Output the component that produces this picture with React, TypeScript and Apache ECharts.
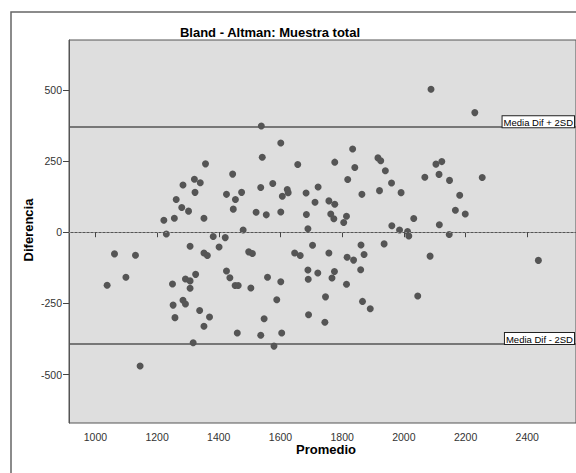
import React, { useEffect, useRef } from "react";
import * as echarts from "echarts";

const promedio = [
  1357, 1445, 1321, 1340, 1284, 1323, 1425, 1454, 1474, 1262, 1280, 1302, 1447, 1222, 1256, 1352,
  1230, 1382, 1421, 1401, 1307, 1062, 1130, 1352, 1363, 1099, 1038, 1250, 1292, 1307, 1325, 1307,
  1425, 1436, 1453, 1463, 1284, 1292, 1252, 1338, 1370, 1258, 1352, 1460, 1317, 1145,
  1538, 1601, 1541, 1834, 1656, 1776, 1916, 1925, 1841, 1940, 1818, 1960, 1575, 1536, 1722, 1622,
  1625, 1606, 1683, 1921, 1864, 1991, 1712, 1757, 1776, 1521, 1554, 1601, 1684, 1763, 1773, 1814,
  1805, 1961, 1479, 1689, 1986, 1704, 1861, 1936, 1497, 1509, 1646, 1664, 1757, 1816, 1837, 1871,
  1504, 1558, 1601, 1689, 1690, 1721, 1775, 1767, 1860, 1814, 1588, 1746, 1866, 1891, 1547, 1691,
  1744, 1536, 1604, 1579,
  2088, 2230, 2104, 2123, 2068, 2114, 2148, 2254, 2181, 2167, 2199, 2032, 2115, 2012, 2016, 2147,
  2085, 2436, 2045,
];
const diferencia = [
  240, 204, 186, 174, 166, 140, 133, 115, 140, 115, 87, 74, 81, 42, 49, 49,
  -6, -15, -19, -52, -49, -76, -81, -73, -82, -158, -186, -182, -164, -171, -148, -197,
  -136, -160, -187, -187, -239, -252, -256, -275, -298, -300, -330, -354, -388, -470,
  373, 313, 263, 292, 238, 246, 261, 251, 227, 216, 185, 173, 171, 157, 159, 150,
  139, 126, 138, 146, 133, 139, 105, 110, 98, 70, 61, 71, 62, 64, 47, 56,
  34, 23, 8, 12, 8, -46, -45, -41, -69, -75, -73, -82, -73, -88, -98, -78,
  -196, -158, -174, -133, -165, -143, -138, -161, -132, -183, -237, -227, -243, -269, -304, -290,
  -316, -362, -354, -400,
  502, 420, 239, 248, 193, 203, 182, 192, 130, 77, 64, 48, 26, 2, -13, -8,
  -84, -99, -224,
];
const xTicks = [1000, 1200, 1400, 1600, 1800, 2000, 2200, 2400];
const yTicks = [-500, -250, 0, 250, 500];
const limitUpper = 369;
const limitLower = -393;
const limitLabels = ["Media Dif + 2SD", "Media Dif - 2SD"];
const titleText = "Bland - Altman: Muestra total";
const xName = "Promedio";
const yName = "Diferencia";

const FONT = "'Liberation Sans', Arial, sans-serif";

export default function App() {
  const ref = useRef<HTMLDivElement>(null);
  useEffect(() => {
    const chart = echarts.init(ref.current!, null, { renderer: "svg" });
    const points = promedio.map((x, i) => [x, diferencia[i]]);
    const limitLabel = (text: string) => ({
      show: true,
      formatter: text,
      position: "insideEndTop",
      distance: [2, 0],
      color: "#000",
      fontSize: 9.5,
      fontFamily: FONT,
      backgroundColor: "#fff",
      borderColor: "#222",
      borderWidth: 1,
      padding: [1, 1, 0, 1],
    });
    const nameFont = `bold 13px ${FONT}`;
    chart.setOption({
      animation: false,
      backgroundColor: "#fff",
      textStyle: { fontFamily: FONT },
      graphic: [
        {
          type: "rect",
          shape: { x: 11, y: 12, width: 700, height: 600 },
          style: { fill: "none", stroke: "#666", lineWidth: 1.5 },
          silent: true,
        },
        {
          type: "text",
          x: 270,
          y: 32,
          style: {
            text: titleText,
            font: nameFont,
            fill: "#000",
            textAlign: "center",
            textVerticalAlign: "middle",
          },
        },
        {
          type: "text",
          x: 326,
          y: 449,
          style: {
            text: xName,
            font: nameFont,
            fill: "#000",
            textAlign: "center",
            textVerticalAlign: "middle",
          },
        },
        {
          type: "text",
          x: 28,
          y: 230,
          rotation: Math.PI / 2,
          style: {
            text: yName,
            font: nameFont,
            fill: "#000",
            textAlign: "center",
            textVerticalAlign: "middle",
          },
        },
      ],
      grid: {
        left: 69,
        top: 40,
        right: 0,
        bottom: 50,
        show: true,
        backgroundColor: "#dedede",
        borderColor: "#555",
        borderWidth: 1,
      },
      xAxis: {
        type: "value",
        min: 914.5,
        max: 2558,
        axisLine: { show: true, lineStyle: { color: "#555", width: 1 } },
        axisTick: { show: true, length: 5, customValues: xTicks, lineStyle: { color: "#444" } },
        axisLabel: {
          customValues: xTicks,
          formatter: (v: number) => String(v),
          fontSize: 10.5,
          color: "#333",
          margin: 8,
          fontFamily: FONT,
        },
        splitLine: { show: false },
      },
      yAxis: {
        type: "value",
        min: -670,
        max: 675,
        axisLine: { show: true, lineStyle: { color: "#555", width: 1 } },
        axisTick: { show: true, length: 6, customValues: yTicks, lineStyle: { color: "#444" } },
        axisLabel: {
          customValues: yTicks,
          formatter: (v: number) => String(v),
          fontSize: 10.5,
          color: "#333",
          margin: 7,
          fontFamily: FONT,
        },
        splitLine: { show: false },
      },
      series: [
        {
          type: "scatter",
          data: points,
          symbolSize: 7,
          itemStyle: { color: "#555", opacity: 1 },
          markLine: {
            silent: true,
            symbol: "none",
            animation: false,
            data: [
              {
                yAxis: 0,
                lineStyle: { color: "#8a8a8a", type: [2, 2], width: 1 },
                label: { show: false },
              },
              {
                yAxis: limitUpper,
                lineStyle: { color: "#555", type: "solid", width: 1.6 },
                label: limitLabel(limitLabels[0]),
              },
              {
                yAxis: limitLower,
                lineStyle: { color: "#555", type: "solid", width: 1.6 },
                label: limitLabel(limitLabels[1]),
              },
            ],
          },
        },
      ],
    });
    return () => chart.dispose();
  }, []);
  return (
    <div
      ref={ref}
      style={{ position: "absolute", left: 0, top: 0, width: 576, height: 473, background: "#fff" }}
    />
  );
}
